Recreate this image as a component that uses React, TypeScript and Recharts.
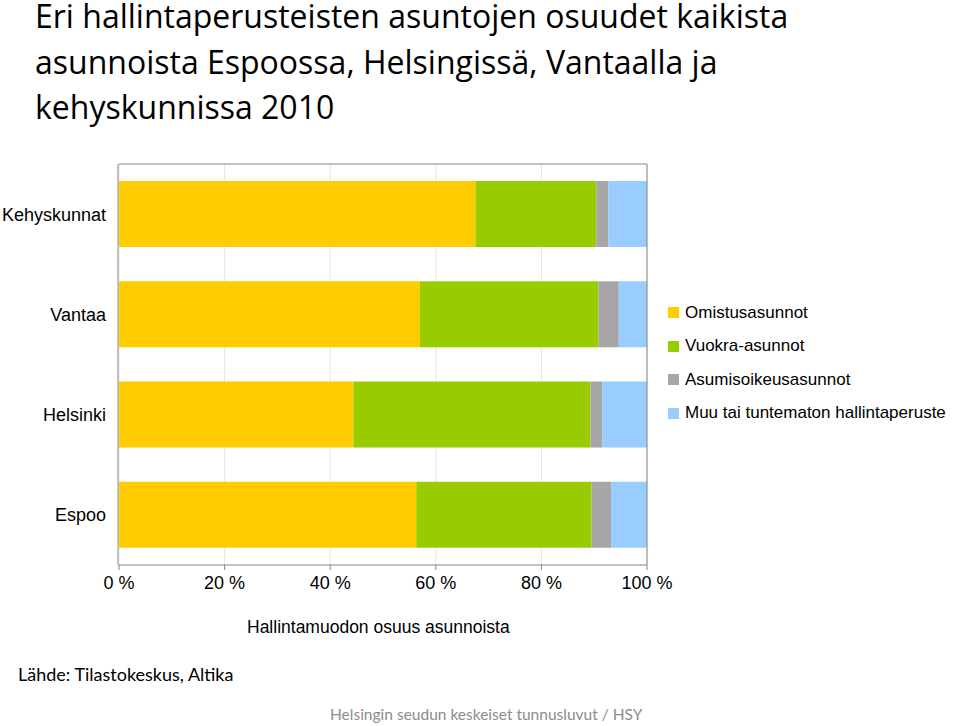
import React from 'react';
import { BarChart, Bar, XAxis, YAxis, CartesianGrid } from 'recharts';

// Hallintaperusteiden osuudet (%), luettu kuvasta
const categories = ['Kehyskunnat', 'Vantaa', 'Helsinki', 'Espoo'];
const omistus = [67.5, 57.0, 44.4, 56.3];
const vuokra = [22.9, 33.8, 44.9, 33.2];
const asumisoikeus = [2.3, 3.85, 2.2, 3.7];
const muu = [7.3, 5.35, 8.5, 6.8];
const xTicks = [0, 20, 40, 60, 80, 100];
const bandEdges = [0, 1, 2, 3, 4];
const titleLines = [
    'Eri hallintaperusteisten asuntojen osuudet kaikista',
    'asunnoista Espoossa, Helsingissä, Vantaalla ja',
    'kehyskunnissa 2010',
];

const SERIES = [
    { key: 'omistus', name: 'Omistusasunnot', color: '#FFCC00' },
    { key: 'vuokra', name: 'Vuokra-asunnot', color: '#99CC00' },
    { key: 'asumisoikeus', name: 'Asumisoikeusasunnot', color: '#A6A6A6' },
    { key: 'muu', name: 'Muu tai tuntematon hallintaperuste', color: '#99CCFF' },
];

const data = categories.map((name, i) => ({
    name,
    omistus: omistus[i],
    vuokra: vuokra[i],
    asumisoikeus: asumisoikeus[i],
    muu: muu[i],
}));

const FONT = '"Liberation Sans", Arial, sans-serif';
const AXIS = '#868686';

export default function App() {
    return (
        <div style={{ position: 'absolute', left: 0, top: 0, width: 960, height: 726, background: '#fff', overflow: 'hidden' }}>
            <div style={{ position: 'absolute', left: 35, top: 0, width: 920, fontFamily: '"Open Sans", sans-serif', fontSize: 32, lineHeight: '32px', color: '#000' }}>
                {titleLines.map(t => (
                    <div key={t} style={{ height: 45.5 }}>{t}</div>
                ))}
            </div>

            <div style={{ position: 'absolute', left: 0, top: 0 }}>
                <BarChart
                    width={960}
                    height={726}
                    data={data}
                    layout="vertical"
                    margin={{ top: 163, right: 312, left: 0, bottom: 131 }}
                    barCategoryGap="17%"
                >
                    <CartesianGrid horizontal={false} stroke="#E6E6E6" />
                    <XAxis
                        type="number"
                        domain={[0, 100]}
                        ticks={xTicks}
                        tickFormatter={(v: number) => `${v} %`}
                        height={30}
                        stroke={AXIS}
                        tickSize={5}
                        tickMargin={6}
                        tick={{ fill: '#000', fontSize: 18, fontFamily: FONT }}
                    />
                    <XAxis
                        xAxisId="top"
                        orientation="top"
                        type="number"
                        domain={[0, 100]}
                        allowDataOverflow
                        height={1}
                        tick={false}
                        tickLine={false}
                        stroke={AXIS}
                    />
                    {/* category labels: thin axis next to the plot, labels spill left */}
                    <YAxis
                        type="category"
                        dataKey="name"
                        width={1}
                        axisLine={false}
                        tickLine={false}
                        tickSize={0}
                        tickMargin={13}
                        tick={{ fill: '#000', fontSize: 18, fontFamily: FONT }}
                    />
                    {/* axis line with ticks at the band edges */}
                    <YAxis
                        yAxisId="num"
                        type="number"
                        domain={[0, 4]}
                        allowDataOverflow
                        ticks={bandEdges}
                        width={118}
                        tick={false}
                        tickSize={5}
                        stroke={AXIS}
                    />
                    <YAxis
                        yAxisId="r"
                        orientation="right"
                        type="number"
                        domain={[0, 1]}
                        allowDataOverflow
                        width={1}
                        tick={false}
                        tickLine={false}
                        stroke={AXIS}
                    />
                    {SERIES.map(s => (
                        <Bar key={s.key} dataKey={s.key} name={s.name} stackId="a" fill={s.color} isAnimationActive={false} />
                    ))}
                </BarChart>
            </div>

            <div style={{ position: 'absolute', left: 668, top: 296, fontFamily: FONT, fontSize: 17, color: '#000' }}>
                {SERIES.map(s => (
                    <div key={s.key} style={{ display: 'flex', alignItems: 'center', height: 33.5 }}>
                        <span style={{ display: 'inline-block', width: 11, height: 11, background: s.color, marginRight: 6 }} />
                        <span>{s.name}</span>
                    </div>
                ))}
            </div>

            <div style={{ position: 'absolute', left: 247, top: 617, fontFamily: FONT, fontSize: 17.5, color: '#000' }}>
                Hallintamuodon osuus asunnoista
            </div>
            <div style={{ position: 'absolute', left: 18, top: 663, fontFamily: 'Lato, "Open Sans", sans-serif', fontSize: 18, color: '#000' }}>
                Lähde: Tilastokeskus, Altika
            </div>
            <div style={{ position: 'absolute', left: 330, top: 705, fontFamily: 'Lato, "Open Sans", sans-serif', fontSize: 15.5, color: '#8C8C8C' }}>
                Helsingin seudun keskeiset tunnusluvut / HSY
            </div>
        </div>
    );
}
